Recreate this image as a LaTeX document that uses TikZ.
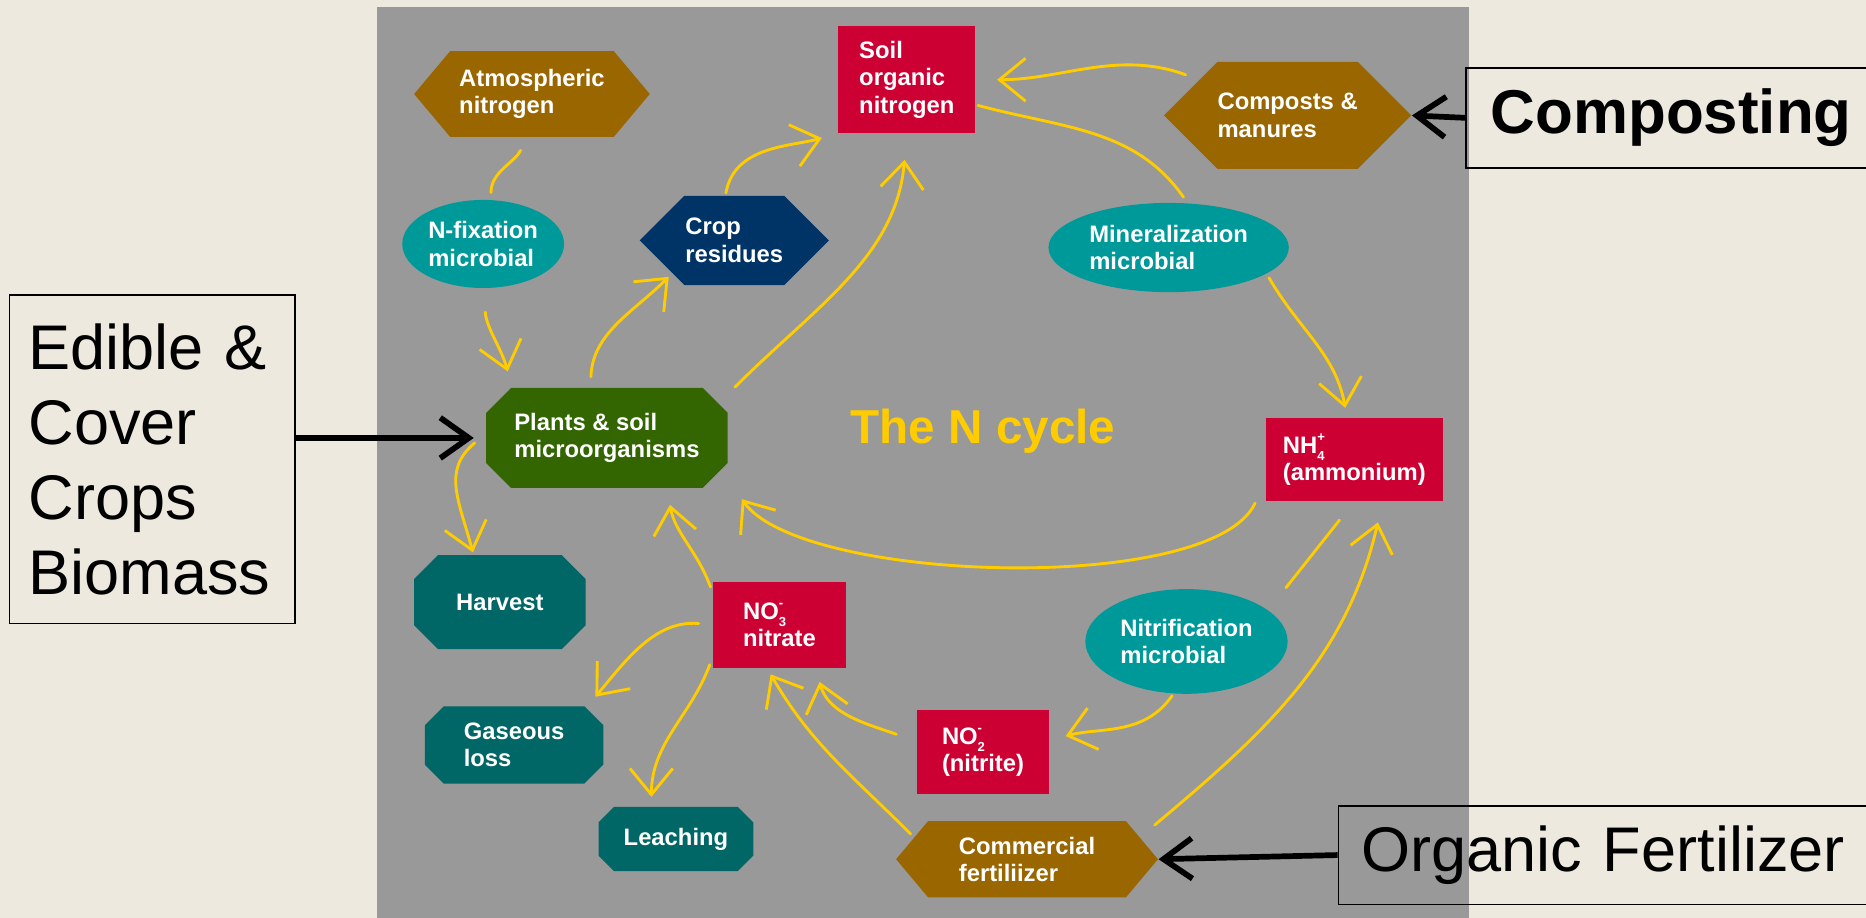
\documentclass[tikz,border=0pt]{standalone}
\usepackage{fontspec}
\setmainfont{Liberation Sans}
\usetikzlibrary{shapes.symbols,shapes.geometric,arrows.meta}

\definecolor{bgbeige}{RGB}{238,233,222}
\definecolor{panelgray}{RGB}{153,153,153}
\definecolor{nbrown}{RGB}{153,102,0}
\definecolor{nred}{RGB}{204,0,51}
\definecolor{nteal}{RGB}{0,153,153}
\definecolor{nblue}{RGB}{0,51,102}
\definecolor{ngreen}{RGB}{51,102,0}
\definecolor{ndteal}{RGB}{0,102,102}
\definecolor{nyellow}{RGB}{255,204,0}

\newcommand\octcut{8pt}
\newcommand\octfill{ndteal}
% ion charge over count
\newcommand\ion[2]{\rlap{\raisebox{-3pt}{\fontsize{5.5}{5.5}\selectfont #1}}\raisebox{5pt}{\fontsize{5.5}{5.5}\selectfont #2}}
\tikzset{
  pool/.style={text=white, font=\bfseries\fontsize{10}{11.5}\selectfont, align=left, inner sep=0pt},
  sqpool/.style={pool, rectangle, fill=nred},
  hexpool/.style={pool, signal, signal to=east and west, fill=nbrown},
  ovalpool/.style={pool, ellipse, fill=nteal},
  octcut/.code={\renewcommand\octcut{#1}},
  octfill/.code={\renewcommand\octfill{#1}},
  octpool/.style={pool, rectangle, path picture={
      \fill[\octfill] ([xshift=\octcut]path picture bounding box.north west)
        -- ([xshift=-\octcut]path picture bounding box.north east)
        -- ([yshift=-\octcut]path picture bounding box.north east)
        -- ([yshift=\octcut]path picture bounding box.south east)
        -- ([xshift=-\octcut]path picture bounding box.south east)
        -- ([xshift=\octcut]path picture bounding box.south west)
        -- ([yshift=\octcut]path picture bounding box.south west)
        -- ([yshift=-\octcut]path picture bounding box.north west) -- cycle;}},
  flow/.style={nyellow, line width=1.2pt, line cap=round, line join=round},
  flowarrow/.style={flow, -{Straight Barb[length=11pt,width=18pt]}},
  callout/.style={draw=black, line width=0.7pt, text=black, align=left},
  callarrow/.style={line width=2.4pt, -{Straight Barb[length=12pt,width=17pt]}}
}

\begin{document}
\begin{tikzpicture}[x=0.5pt,y=0.5pt]
      % \draw[help lines](0,0) grid (1568,-771);
      \useasboundingbox (0,0) rectangle (1568,-771);
      \fill[bgbeige] (0,0) rectangle (1568,-771);
      \fill[panelgray] (317,-6) rectangle (1234,-771);

      \draw (447,-79) node[hexpool, signal pointer angle=100, minimum width=99pt, minimum height=36pt] (atm) {Atmospheric\\nitrogen};
      \draw (762,-67) node[sqpool, minimum width=57.5pt, minimum height=45pt] (soil) {Soil\\organic\\nitrogen};
      \draw (1082,-97) node[hexpool, signal pointer angle=90, minimum width=98pt, minimum height=45pt] (comp) {Composts \&\\manures};
      \draw (406,-205) node[ovalpool, minimum width=68pt, minimum height=37pt] (nfix) {N-fixation\\microbial};
      \draw (617,-202) node[hexpool, fill=nblue, signal pointer angle=90, minimum width=79.5pt, minimum height=37.5pt] (crop) {Crop\\residues};
      \draw (982,-208) node[ovalpool, minimum width=101pt, minimum height=37.5pt] (miner) {Mineralization\\microbial};
      \draw (510,-368) node[octpool, octfill=ngreen, octcut=10.5pt, minimum width=101.5pt, minimum height=42pt] (plants) {Plants \& soil\\microorganisms};
      \draw (826,-362) node[text=nyellow, font=\bfseries\fontsize{20}{24}\selectfont] (title) {The N cycle};
      \draw (1138,-386) node[sqpool, minimum width=74.5pt, minimum height=35pt] (nh4) {NH\ion{4}{+}\\(ammonium)};
      \draw (420,-506) node[octpool, octcut=10pt, minimum width=72pt, minimum height=39.5pt] (harvest) {Harvest};
      \draw (655,-525) node[sqpool, minimum width=55.5pt, minimum height=36pt] (no3) {NO\ion{3}{-}\\nitrate};
      \draw (997,-539) node[ovalpool, minimum width=85pt, minimum height=44pt] (nitr) {Nitrification\\microbial};
      \draw (432,-626) node[octpool, octcut=8pt, minimum width=75pt, minimum height=32.5pt] (gas) {Gaseous\\loss};
      \draw (826,-632) node[sqpool, minimum width=55.5pt, minimum height=35.5pt] (no2) {NO\ion{2}{-}\\(nitrite)};
      \draw (568,-705) node[octpool, octcut=6.5pt, minimum width=65pt, minimum height=27pt] (leach) {Leaching};
      \draw (863,-722) node[hexpool, signal pointer angle=100, minimum width=110pt, minimum height=32pt] (comm) {Commercial\\fertiliizer};

      \draw (1231,-99) node[callout, anchor=west, font=\bfseries\fontsize{26}{31}\selectfont, text width=165pt, inner xsep=10.5pt, minimum height=42pt] (compbox) {Composting};
      \draw (1124,-718.5) node[callout, anchor=west, font=\fontsize{26.5}{31.5}\selectfont, text width=215pt, inner xsep=9.5pt, minimum height=41.5pt] (orgbox) {Organic Fertilizer};
      \draw (128,-386) node[callout, font=\fontsize{26.5}{31.5}\selectfont, text width=104pt, inner xsep=8pt, minimum height=138pt] (edible) {Edible \&\\Cover\\Crops\\Biomass};

      % fixation and uptake
      \draw[flow, shorten <=3pt, shorten >=6pt] (nfix.80) to[out=90,in=-115] (atm.-97);
      \draw[flowarrow, shorten <=10pt, shorten >=7pt] (nfix.-90) to[out=-85,in=105] (plants.152);
      \draw[flowarrow, shorten <=4.5pt, shorten >=2pt] (plants.108) to[out=88,in=-135] (crop.208);
      \draw[flowarrow, shorten <=1pt, shorten >=7pt] (crop.101) to[out=80,in=195] (soil.south west);
      \draw[flowarrow, shorten <=4pt, shorten >=11pt] (plants.20) to[out=45,in=-95] (soil.south);
      \draw[flowarrow, shorten <=6pt, shorten >=9pt] (comp.158) to[out=160,in=0] (soil.east);
      \draw[flowarrow, shorten <=6pt, shorten >=1pt] (plants.178) to[out=-140,in=105,looseness=1.2] (harvest.119);

      % mineralization and nitrification
      \draw[flow, shorten <=1pt, shorten >=3pt] (soil.-20) to[out=-15,in=125] (miner.67);
      \draw[flowarrow, shorten <=2pt, shorten >=4pt] (miner.-15) to[out=-60,in=100] (nh4.100);
      \draw[flowarrow, shorten <=10pt, shorten >=10pt] (nh4.194) to[out=-115,in=-55,looseness=0.6] (plants.-19);
      \draw[flow, shorten <=10pt, shorten >=12pt] (nh4.south) -- (nitr.21);
      \draw[flowarrow, shorten <=1pt, shorten >=7pt] (nitr.-104) to[out=-125,in=15] (no2.10);
      \draw[flowarrow, shorten <=9pt, shorten >=6pt] (no2.171) to[out=160,in=-75] (no3.-50);

      % fertilizer
      \draw[flowarrow, shorten <=2pt, shorten >=3pt] (comm.169) to[out=135,in=-60] (no3.-106);
      \draw[flowarrow, shorten <=8pt, shorten >=9pt] (comm.11) to[out=40,in=-103] (nh4.-56);

      % nitrate losses
      \draw[flowarrow, shorten <=3pt, shorten >=7pt] (no3.155) to[out=110,in=-80] (plants.-40);
      \draw[flowarrow, shorten <=6pt, shorten >=5pt] (no3.west) to[out=175,in=50] (gas.28);
      \draw[flowarrow, shorten <=4pt, shorten >=4pt] (no3.205) to[out=-110,in=90] (leach.127);

      \draw[callarrow] (compbox.west) -- (comp.east);
      \draw[callarrow, shorten >=5pt] (edible.east |- plants.west) -- (plants.west);
      \draw[callarrow] (orgbox.west) -- (comm.east);
    \end{tikzpicture}
\end{document}
